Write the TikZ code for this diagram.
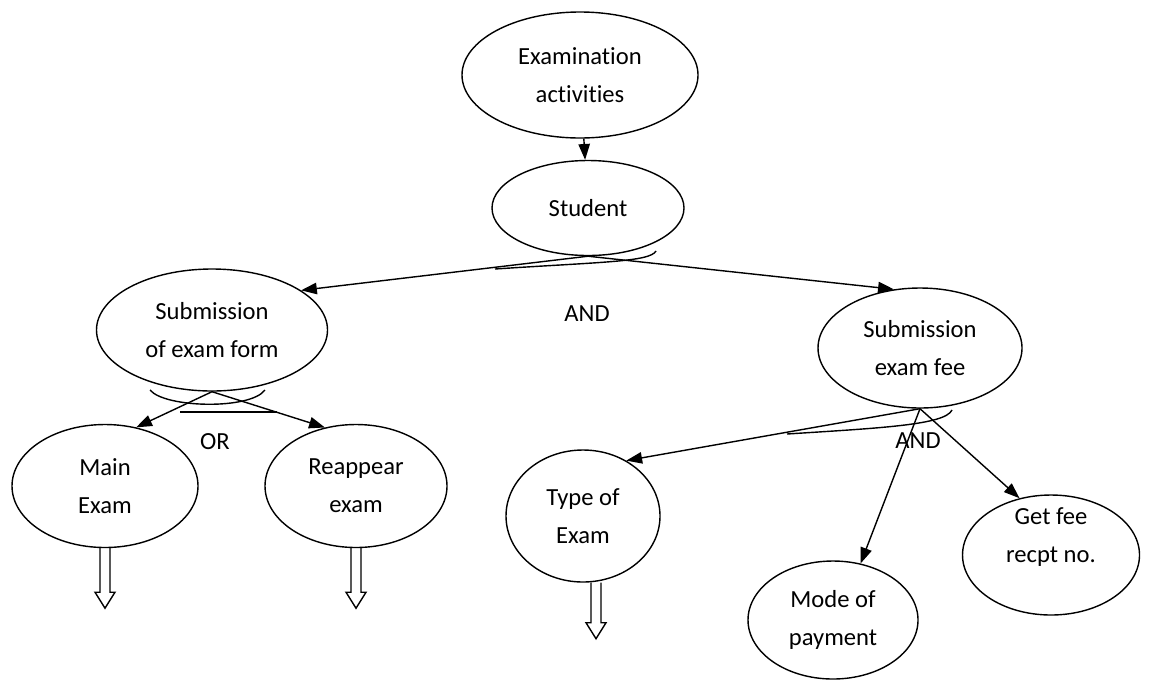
\documentclass[tikz,border=0pt]{standalone}
\usepackage{fontspec}
\setmainfont{Carlito}[Ligatures=NoCommon]
\usetikzlibrary{shapes.geometric,arrows.meta}
\begin{document}
\begin{tikzpicture}[x=0.02cm,y=-0.02cm]
		\tikzstyle{fleche}=[line width=0.8pt,-{Triangle[length=9pt,width=6.5pt]}]
		\tikzstyle{noeud}=[draw,ellipse,line width=0.8pt,inner sep=0pt,align=center,font=\fontsize{14}{21.5}\selectfont]
		\tikzstyle{etiquette}=[font=\fontsize{14}{17}\selectfont]
		\tikzstyle{arc}=[line width=0.8pt]
		\tikzstyle{creuse}=[line width=0.8pt,line join=miter]
		\def\Px{0.02cm}
		\useasboundingbox (0,0) rectangle (1151,680);
		\node[noeud,minimum width=236*\Px,minimum height=126*\Px] (Exa) at (580,75) {Examination\\activities};
		\node[noeud,minimum width=192*\Px,minimum height=95*\Px] (Stu) at (588,208) {Student};
		\node[noeud,minimum width=231*\Px,minimum height=122*\Px] (Form) at (212,330) {Submission\\of exam form};
		\node[noeud,minimum width=204*\Px,minimum height=120*\Px] (Fee) at (920,348) {Submission\\exam fee};
		\node[noeud,minimum width=186*\Px,minimum height=123*\Px] (Main) at (105,486) {Main\\Exam};
		\node[noeud,minimum width=182*\Px,minimum height=123*\Px] (Reap) at (356,486) {Reappear\\exam};
		\node[noeud,minimum width=154*\Px,minimum height=132*\Px] (Type) at (583,516) {Type of\\Exam};
		\node[noeud,minimum width=170*\Px,minimum height=118*\Px] (Mode) at (833,620) {Mode of\\payment};
		\node[noeud,minimum width=177*\Px,minimum height=120*\Px,label={[noeud,draw=none,yshift=18*\Px]center:Get fee\\recpt no.}] (Get) at (1051,555) {};
		\node[etiquette] (And1) at (587,314) {AND};
		\node[etiquette] (Or) at (215,442) {OR};
		\node[etiquette] (And2) at (918,441) {AND};
		\draw[fleche] (Exa)--(Stu);
		\draw[fleche] (Stu.south)--(Form.24);
		\draw[fleche] (Stu.south)--(Fee.114);
		\draw[fleche] (Form.south)--(Main.62);
		\draw[fleche] (Form.south)--(Reap.118);
		\draw[fleche] (Fee.south)--(Type.52);
		\draw[fleche] (Fee.south)--(Mode.64);
		\draw[fleche] (Fee.south)--(Get.119);
		\draw[arc] (495,269) .. controls (600,262) and (650,262) .. (656,251);
		\draw[arc] (150,390) .. controls (165,408) and (250,410) .. (265,390);
		\draw[arc] (180,412) -- (277,412);
		\draw[arc] (787,434) .. controls (880,428) and (945,425) .. (952,410);
		\draw[creuse] (Main.south) ++(-5,0) -- ++(0,44) -- ++(-5,0) -- ++(10,16) -- ++(10,-16) -- ++(-5,0) -- ++(0,-44);
		\draw[creuse] (Reap.south) ++(-5,0) -- ++(0,44) -- ++(-5,0) -- ++(10,16) -- ++(10,-16) -- ++(-5,0) -- ++(0,-44);
		\draw[creuse] (Type.south) ++(13,0) ++(-5,0) -- ++(0,40) -- ++(-5,0) -- ++(10,16) -- ++(10,-16) -- ++(-5,0) -- ++(0,-40);
	\end{tikzpicture}
\end{document}
